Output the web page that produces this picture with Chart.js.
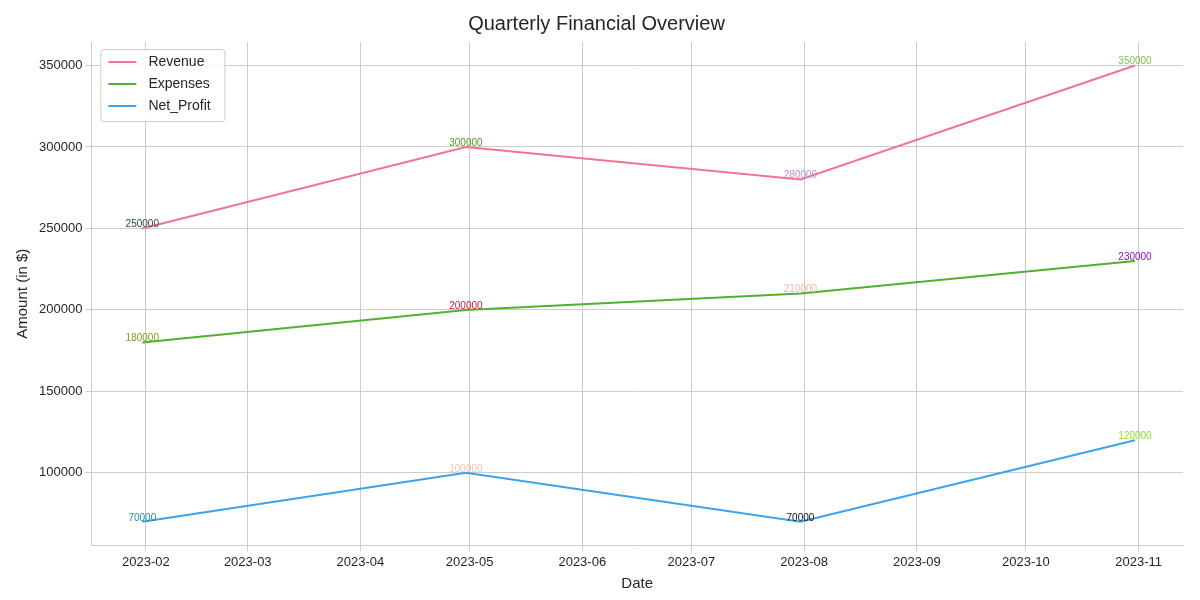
<!DOCTYPE html>
<html lang="en">
<head>
<meta charset="UTF-8">
<title>Quarterly Financial Overview</title>
<script src="https://cdn.jsdelivr.net/npm/chart.js"></script>
<style>
  body { margin: 0; background: #fff; }
</style>
</head>
<body>
<canvas id="myChart" width="1200" height="600"></canvas>
<script>
// data points: quarter end dates 2023
const dates = ['2023-01-31', '2023-04-30', '2023-07-31', '2023-10-31']
const revenue = [250000, 300000, 280000, 350000]
const expenses = [180000, 200000, 210000, 230000]
const netProfit = [70000, 100000, 70000, 120000]
const tickLabels = ['2023-02', '2023-03', '2023-04', '2023-05', '2023-06', '2023-07', '2023-08', '2023-09', '2023-10', '2023-11']
// annotation colours per point
const revenueLabelColors = ['#24493d', '#4a9a1c', '#b48ee8', '#7fc24a']
const expensesLabelColors = ['#7aa21a', '#e0103c', '#e6bca8', '#8a10d0']
const profitLabelColors = ['#1f8c9a', '#f2c4b0', '#111111', '#8fe030']

const dayOf = s => (new Date(s + 'T00:00:00Z') - Date.UTC(2023, 0, 1)) / 86400000
const xs = dates.map(dayOf)
const tickDays = tickLabels.map(t => dayOf(t + '-01'))
const pts = vals => vals.map((v, i) => ({ x: xs[i], y: v }))

const font = 'Arial, "Liberation Sans", sans-serif'

const annotations = {
    id: 'annotations',
    afterDatasetsDraw(chart) {
        const ctx = chart.ctx
        const cols = [revenueLabelColors, expensesLabelColors, profitLabelColors]
        ctx.save()
        ctx.font = '10px ' + font
        ctx.textAlign = 'center'
        ctx.textBaseline = 'bottom'
        chart.data.datasets.forEach((ds, di) => {
            chart.getDatasetMeta(di).data.forEach((p, i) => {
                ctx.fillStyle = cols[di][i]
                ctx.fillText(String(ds.data[i].y), p.x, p.y + 1)
            })
        })
        // legend inside plot
        const a = chart.chartArea
        const x0 = a.left + 9, y0 = a.top + 7
        ctx.fillStyle = 'rgba(255,255,255,0.85)'
        ctx.strokeStyle = '#cccccc'
        ctx.lineWidth = 1
        ctx.beginPath()
        ctx.roundRect(x0 + 0.5, y0 + 0.5, 124, 72, 3)
        ctx.fill(); ctx.stroke()
        ctx.font = '14px ' + font
        ctx.textAlign = 'left'
        ctx.textBaseline = 'middle'
        chart.data.datasets.forEach((ds, di) => {
            const yy = y0 + 13 + di * 22
            ctx.strokeStyle = ds.borderColor
            ctx.lineWidth = 2
            ctx.beginPath(); ctx.moveTo(x0 + 8, yy); ctx.lineTo(x0 + 36, yy); ctx.stroke()
            ctx.fillStyle = '#262626'
            ctx.fillText(ds.label, x0 + 48, yy)
        })
        ctx.restore()
    }
}

new Chart(document.getElementById('myChart'), {
    type: 'line',
    data: {
        datasets: [
            { label: 'Revenue', data: pts(revenue), borderColor: '#f07590' },
            { label: 'Expenses', data: pts(expenses), borderColor: '#50b131' },
            { label: 'Net_Profit', data: pts(netProfit), borderColor: '#3ba3ec' }
        ].map(d => Object.assign(d, { borderWidth: 2, pointRadius: 0, tension: 0, fill: false }))
    },
    options: {
        responsive: false,
        animation: false,
        devicePixelRatio: 1,
        layout: { padding: { left: 10, right: 17, top: 0, bottom: 5 } },
        plugins: {
            legend: { display: false },
            tooltip: { enabled: false },
            title: { display: true, text: 'Quarterly Financial Overview', color: '#262626',
                     font: { size: 20, family: font, weight: 'normal' }, padding: { top: 12, bottom: 6 } }
        },
        scales: {
            x: {
                type: 'linear', min: 16, max: 316.2,
                afterBuildTicks: ax => { ax.ticks = tickDays.map(v => ({ value: v })) },
                ticks: { callback: (v, i) => tickLabels[i], color: '#262626', font: { size: 13, family: font }, maxRotation: 0, autoSkip: false },
                grid: { color: '#cccccc', tickLength: 6, tickColor: '#cccccc' },
                border: { color: '#cccccc' },
                title: { display: true, text: 'Date', color: '#262626', font: { size: 15, family: font }, padding: 2 }
            },
            y: {
                min: 55500, max: 364400,
                afterBuildTicks: ax => { ax.ticks = [100000, 150000, 200000, 250000, 300000, 350000].map(v => ({ value: v })) },
                ticks: { color: '#262626', font: { size: 13, family: font }, callback: v => String(v) },
                grid: { color: '#cccccc', tickLength: 6, tickColor: '#cccccc' },
                border: { color: '#cccccc' },
                title: { display: true, text: 'Amount (in $)', color: '#262626', font: { size: 15, family: font }, padding: 4 }
            }
        }
    },
    plugins: [annotations]
})
</script>
</body>
</html>
